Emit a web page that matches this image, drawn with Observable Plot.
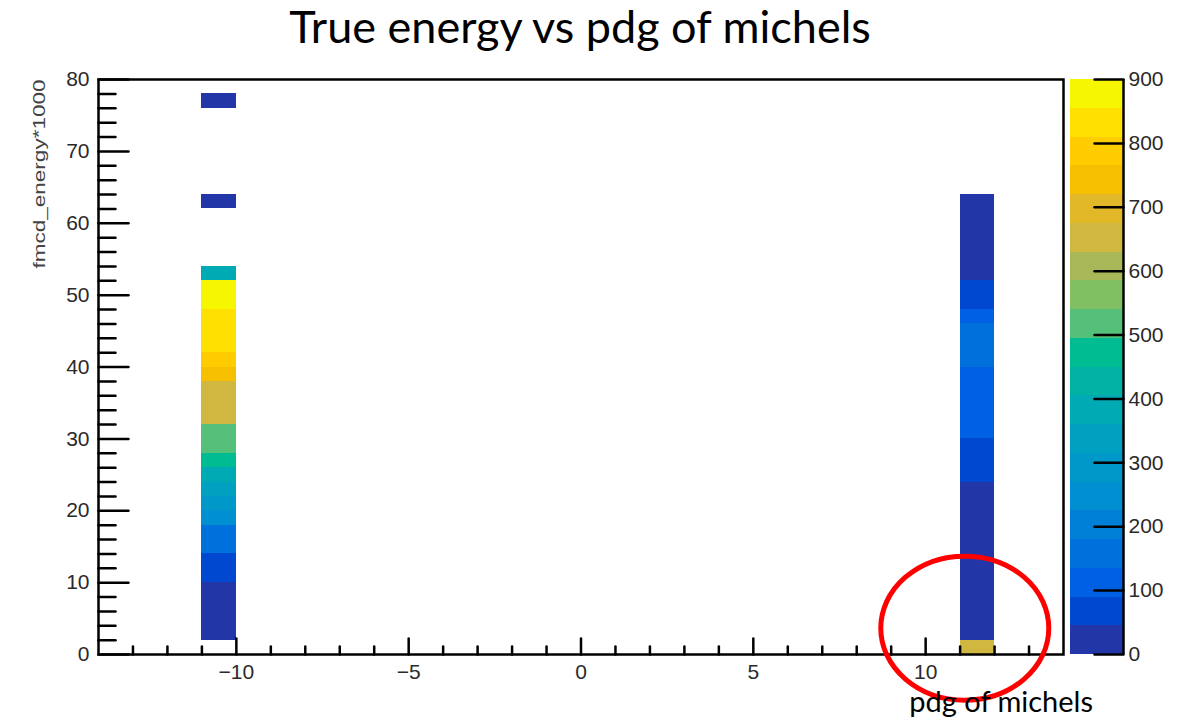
<!DOCTYPE html>
<html><head><meta charset="utf-8">
<script src="https://cdn.jsdelivr.net/npm/d3@7"></script>
<script src="https://cdn.jsdelivr.net/npm/@observablehq/plot@0.6"></script>
<style>
body{margin:0;background:#fff;}
#wrap{position:relative;width:1192px;height:720px;overflow:hidden;background:#fff;}
#main,#cbar{position:absolute;top:0;}
#main{left:0;}
#cbar{left:1070px;}
#title{position:absolute;left:0;top:4px;width:1160px;text-align:center;font-family:Lato,"Open Sans",sans-serif;font-size:45px;line-height:1;color:#000;white-space:nowrap;}
#xlabel{position:absolute;right:99px;top:686px;font-family:Lato,"Open Sans",sans-serif;font-size:29px;line-height:1;color:#000;white-space:nowrap;}
</style></head><body>
<div id="wrap"><div id="main"></div><div id="cbar"></div>
<div id="title">True energy vs pdg of michels</div>
<div id="xlabel">pdg of michels</div></div>
<script>
// ---- data (2D histogram: pdg bins of width 1, energy bins of width 2) ----
const pdgBinWidth = 1;
const energyBinWidth = 2;
const energyBinEdges = [0,2,4,6,8,10,12,14,16,18,20,22,24,26,28,30,32,34,36,38,40,42,44,46,48,50,52,54,56,58,60,62,64,66,68,70,72,74,76,78];
const countsPdgMinus11 = [0,22,30,36,40,62,80,150,165,245,295,335,385,470,520,530,650,660,655,740,790,830,840,835,870,880,390,0,0,0,0,3,0,0,0,0,0,0,1,0];
const countsPdg11 =      [650,30,35,38,40,40,38,35,33,30,28,25,55,65,60,110,115,120,118,112,150,155,148,105,80,60,30,25,20,15,10,5,0,0,0,0,0,0,0,0];
const pdgValues = [-11, 11];
const xTicks = [-10,-5,0,5,10];
const xMinorTicks = [-13,-12,-11,-9,-8,-7,-6,-4,-3,-2,-1,1,2,3,4,6,7,8,9,11,12,13];
const yTicks = [0,10,20,30,40,50,60,70,80];
const yMinorTicks = [2,4,6,8,12,14,16,18,22,24,26,28,32,34,36,38,42,44,46,48,52,54,56,58,62,64,66,68,72,74,76,78];
const zTicks = [0,100,200,300,400,500,600,700,800,900];
const zLevels = [0,45,90,135,180,225,270,315,360,405,450,495,540,585,630,675,720,765,810,855,900];
const palette = ["#2236a8","#0048d0","#0060e4","#0070dc","#0080d6","#008fd0","#0098c8","#00a0c0","#00aab4","#00b2a4",
                 "#00bc92","#55c07a","#80c062","#a8b858","#d0b840","#e2b828","#f6c000","#ffcc00","#ffe000","#f6f600"];
const annotation = {pdg: 11.15, energy: 3.6, rx: 84, ry: 72};

// ---- build tables ----
const cells = [];
[countsPdgMinus11, countsPdg11].forEach((counts, k) => {
  counts.forEach((c, i) => { if (c > 0) cells.push({pdg: pdgValues[k], e: energyBinEdges[i], c}); });
});
const bands = d3.pairs(zLevels).map(([lo, hi]) => ({lo, hi}));
const colorScale = {type: "threshold", domain: zLevels.slice(1, -1), range: palette};
const tickShape = {draw(context, l) { context.moveTo(0, 0); context.lineTo(0, -l); }};
const font = "Liberation Sans, Arial, sans-serif";

const main = Plot.plot({
  width: 1192, height: 720,
  marginLeft: 98, marginRight: 129, marginTop: 79, marginBottom: 66,
  x: {domain: [-14, 14], label: null},
  y: {domain: [0, 80], label: null},
  color: colorScale,
  style: {fontFamily: font, fontSize: "21px", color: "#2a2a2a", background: "transparent", overflow: "visible"},
  marks: [
    Plot.rect(cells, {x1: "pdg", x2: d => d.pdg + pdgBinWidth, y1: "e", y2: d => d.e + energyBinWidth, fill: "c", shapeRendering: "crispEdges"}),
    Plot.frame({stroke: "#000", strokeWidth: 2.5}),
    Plot.vector(yTicks, {y: d => d, frameAnchor: "left", rotate: 90, length: 30, anchor: "start", shape: tickShape, stroke: "#000", strokeWidth: 2.5}),
    Plot.vector(yMinorTicks, {y: d => d, frameAnchor: "left", rotate: 90, length: 17, anchor: "start", shape: tickShape, stroke: "#000", strokeWidth: 2.5}),
    Plot.vector(xTicks, {x: d => d, frameAnchor: "bottom", rotate: 0, length: 16, anchor: "start", shape: tickShape, stroke: "#000", strokeWidth: 2.5}),
    Plot.vector(xMinorTicks, {x: d => d, frameAnchor: "bottom", rotate: 0, length: 8, anchor: "start", shape: tickShape, stroke: "#000", strokeWidth: 2.5}),
    Plot.axisY({ticks: yTicks, tickSize: 0, tickPadding: 9, label: null}),
    Plot.axisX({ticks: xTicks, tickSize: 0, tickPadding: 10, label: null}),
    Plot.text(["fmcd_energy*1000"], {text: d => d, frameAnchor: "top-left", dx: -66, rotate: -90, textAnchor: "end", fontSize: 17, fill: "#444"}),
    (index, scales) => {
      const e = document.createElementNS("http://www.w3.org/2000/svg", "ellipse");
      e.setAttribute("cx", scales.x(annotation.pdg));
      e.setAttribute("cy", scales.y(annotation.energy));
      e.setAttribute("rx", annotation.rx);
      e.setAttribute("ry", annotation.ry);
      e.setAttribute("fill", "none");
      e.setAttribute("stroke", "#ff0000");
      e.setAttribute("stroke-width", 5);
      return e;
    }
  ]
});
main.querySelectorAll("text").forEach(t => {
  if (t.textContent === "fmcd_energy*1000") { t.setAttribute("textLength", 189); t.setAttribute("lengthAdjust", "spacingAndGlyphs"); }
});
document.getElementById("main").appendChild(main);

const cbar = Plot.plot({
  width: 122, height: 720,
  marginLeft: 0, marginRight: 69, marginTop: 79, marginBottom: 66,
  x: {domain: [0, 1], axis: null},
  y: {domain: [0, 900], label: null},
  color: colorScale,
  style: {fontFamily: font, fontSize: "21px", color: "#2a2a2a", background: "transparent", overflow: "visible"},
  marks: [
    Plot.rect(bands, {y1: "lo", y2: "hi", fill: d => (d.lo + d.hi) / 2, shapeRendering: "crispEdges"}),
    Plot.ruleX([1], {stroke: "#000", strokeWidth: 2.5}),
    Plot.vector(zTicks, {y: d => d, frameAnchor: "right", rotate: -90, length: 29, anchor: "start", shape: tickShape, stroke: "#000", strokeWidth: 2.5}),
    Plot.axisY({anchor: "right", ticks: zTicks, tickSize: 0, tickPadding: 5, label: null})
  ]
});
document.getElementById("cbar").appendChild(cbar);
</script>
</body></html>
